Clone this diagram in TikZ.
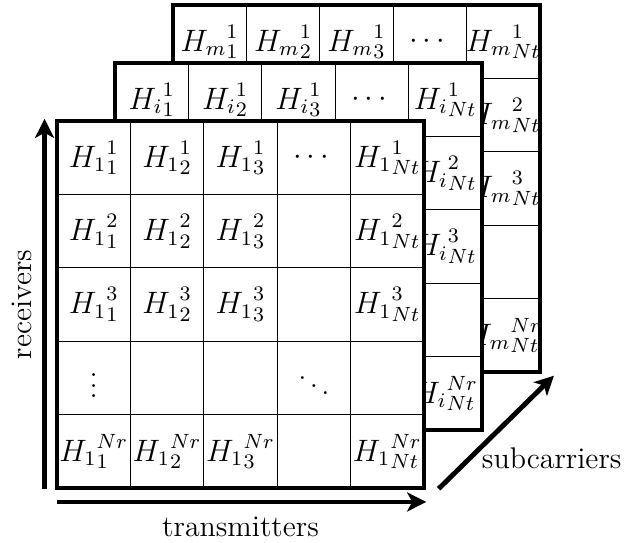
\documentclass[tikz,border=0pt]{standalone}
\usepackage{amsmath}
\usetikzlibrary{arrows.meta,positioning}

\begin{document}
\begin{tikzpicture}[
  font=\fontsize{11.6}{13.5}\selectfont,
  cell/.style={minimum size=1cm, inner sep=0pt, anchor=center},
  gridline/.style={line width=0.4pt},
  layer/.style={draw, line width=1.5pt},
  axis/.style={line width=1.9pt, -{Stealth[length=2.6mm, width=2.6mm, inset=0.7mm]}},
]
\useasboundingbox (-0.777,-0.736) rectangle (7.766,6.649);

% Back layers — subcarriers m and i
\foreach \lay/\off in {m/1.58, i/0.79} {
  \begin{scope}[shift={(\off,\off)}]
    \fill[white] (0,0) rectangle (5,5);
    \draw[gridline] (0,0) grid (5,5);
    \draw[layer] (0,0) rectangle (5,5);
    \foreach \c/\s in {1/1, 2/2, 3/3, 5/{Nt}}
      \node[cell] (\lay-1-\c) at (\c-0.5,4.5) {${H_\lay}_{\s}^1$};
    \node[cell] (\lay-1-4) at (3.5,4.5) {$\cdots$};
    \foreach \r/\p in {2/2, 3/3, 5/{Nr}}
      \node[cell] (\lay-\r-5) at (4.5,5.5-\r) {${H_\lay}_{Nt}^{\p}$};
  \end{scope}
}

% Front layer — subcarrier 1
\fill[white] (0,0) rectangle (5,5);
\draw[gridline] (0,0) grid (5,5);
\draw[layer] (0,0) rectangle (5,5);
\foreach \r/\p in {1/1, 2/2, 3/3, 5/{Nr}} {
  \foreach \c/\s in {1/1, 2/2, 3/3, 5/{Nt}}
    \node[cell] (f-\r-\c) at (\c-0.5,5.5-\r) {${H_1}_{\s}^{\p}$};
}
\node[cell] (f-1-4) at (3.5,4.5) {$\cdots$};
\node[cell] (f-4-1) at (0.5,1.5) {$\vdots$};
\node[cell] (f-4-4) at (3.5,1.5) {$\ddots$};

% Axes
\coordinate (rx0) at (-0.17,-0.02);
\coordinate (rx1) at (-0.17,5.03);
\coordinate (tx0) at (0,-0.19);
\coordinate (tx1) at (5.03,-0.19);
\coordinate (sc0) at (5.2,-0.01);
\coordinate (sc1) at (6.77,1.53);
\draw[axis] (rx0) -- (rx1);
\draw[axis] (tx0) -- (tx1);
\draw[axis] (sc0) -- (sc1);
\node[rotate=90] (receivers) at (-0.48,2.5) {receivers};
\node (transmitters) at (2.5,-0.53) {transmitters};
\node (subcarriers) at (6.74,0.41) {subcarriers};

\end{tikzpicture}
\end{document}
